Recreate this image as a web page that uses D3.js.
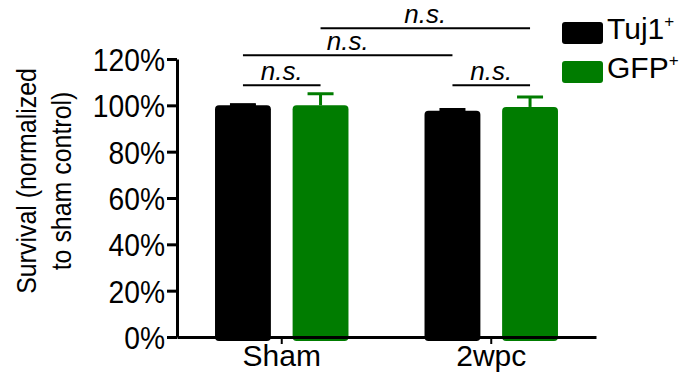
<!DOCTYPE html>
<html>
<head>
<meta charset="utf-8">
<script src="https://cdn.jsdelivr.net/npm/d3@7"></script>
<style>
  body { margin: 0; background: #fff; }
  text { font-family: "Liberation Sans", Arial, sans-serif; }
</style>
</head>
<body>
<div id="chart"></div>
<script>
// data
const groups = ["Sham", "2wpc"];
const series = ["Tuj1", "GFP"];
const means = [[100, 100], [97.7, 99.3]];   // [group][series]
const errs = [[0.3, 5.0], [0.5, 4.3]];
const yTicks = [0, 20, 40, 60, 80, 100, 120];
// significance brackets: [group, series] -> [group, series], height in %
const brackets = [
  {from: [0, 0], to: [0, 1], level: 108.7, label: "n.s."},
  {from: [0, 0], to: [1, 0], level: 121.6, label: "n.s."},
  {from: [0, 1], to: [1, 1], level: 133.3, label: "n.s."},
  {from: [1, 0], to: [1, 1], level: 108.7, label: "n.s."}
];

const width = 693, height = 380;
const margin = {left: 177, right: 97, top: 59, bottom: 43};
const colors = ["#000000", "#007c00"];

const svg = d3.select("#chart").append("svg")
  .attr("width", width)
  .attr("height", height);

// squeeze text a bit, the original font is narrower than Arial
const condense = function(sel, k) {
  sel.each(function() {
    const w = this.getComputedTextLength();
    d3.select(this).attr("textLength", w * k).attr("lengthAdjust", "spacingAndGlyphs");
  });
};

const y = d3.scaleLinear()
  .domain([0, 120])
  .range([height - margin.bottom, margin.top]);

const x0 = d3.scaleBand()
  .domain(groups)
  .range([margin.left, width - margin.right])
  .padding(0);

const x1 = d3.scaleBand()
  .domain(series)
  .range([0, x0.bandwidth()])
  .paddingInner(0.28)
  .paddingOuter(0.49);

const barCenter = (g, s) => x0(groups[g]) + x1(series[s]) + x1.bandwidth() / 2;

// bars
groups.forEach((g, gi) => {
  series.forEach((s, si) => {
    svg.append("rect")
      .attr("x", x0(g) + x1(s))
      .attr("y", y(means[gi][si]))
      .attr("width", x1.bandwidth())
      .attr("height", y(0) - y(means[gi][si]) + 4)
      .attr("rx", 4)
      .attr("fill", colors[si]);

    // error bar (upper only)
    const cx = barCenter(gi, si);
    const top = y(means[gi][si] + errs[gi][si]);
    svg.append("line")
      .attr("x1", cx).attr("x2", cx)
      .attr("y1", y(means[gi][si])).attr("y2", top)
      .attr("stroke", colors[si]).attr("stroke-width", 3);
    svg.append("line")
      .attr("x1", cx - 13).attr("x2", cx + 13)
      .attr("y1", top).attr("y2", top)
      .attr("stroke", colors[si]).attr("stroke-width", 3);
  });
});

// y axis
const yAxis = svg.append("g")
  .attr("transform", `translate(${margin.left},0)`)
  .call(d3.axisLeft(y).tickValues(yTicks).tickFormat(d => d + "%")
    .tickSizeInner(10).tickSizeOuter(0).tickPadding(2));
yAxis.select(".domain").attr("stroke-width", 3);
yAxis.selectAll(".tick line").attr("stroke-width", 3);
yAxis.selectAll(".tick text")
  .attr("font-size", 31)
  .attr("dy", "0.37em")
  .attr("fill", "#000")
  .style("font-family", "'Liberation Sans', Arial, sans-serif")
  .call(condense, 0.91);

// x axis
const xAxis = svg.append("g")
  .attr("transform", `translate(0,${height - margin.bottom})`)
  .call(d3.axisBottom(x0).tickSizeInner(7).tickSizeOuter(0).tickPadding(0));
xAxis.select(".domain").attr("stroke-width", 3);
xAxis.selectAll(".tick line").attr("stroke-width", 2);
xAxis.selectAll(".tick text")
  .attr("font-size", 30)
  .attr("dy", "0.72em")
  .attr("fill", "#000")
  .style("font-family", "'Liberation Sans', Arial, sans-serif");

// y title
const yTitle = svg.append("text")
  .attr("transform", "translate(36,181) rotate(-90)")
  .attr("text-anchor", "middle")
  .attr("font-size", 28);
yTitle.append("tspan").attr("x", 0).attr("y", 0).text("Survival (normalized");
yTitle.append("tspan").attr("x", 0).attr("y", 35).text("to sham control)");
yTitle.selectAll("tspan").call(condense, 0.89);

// significance brackets
brackets.forEach(b => {
  const xa = barCenter(b.from[0], b.from[1]);
  const xb = barCenter(b.to[0], b.to[1]);
  const ly = y(b.level);
  svg.append("line")
    .attr("x1", xa).attr("x2", xb)
    .attr("y1", ly).attr("y2", ly)
    .attr("stroke", "#000").attr("stroke-width", 2);
  svg.append("text")
    .attr("x", (xa + xb) / 2)
    .attr("y", ly - 5)
    .attr("text-anchor", "middle")
    .attr("font-size", 26)
    .attr("font-style", "italic")
    .text(b.label);
});

// legend
const legend = svg.append("g").attr("transform", "translate(562,22)");
series.forEach((s, i) => {
  const row = legend.append("g").attr("transform", `translate(0,${i * 39})`);
  row.append("rect")
    .attr("width", 41).attr("height", 22)
    .attr("rx", 3)
    .attr("fill", colors[i]);
  const t = row.append("text")
    .attr("x", 45).attr("y", 17)
    .attr("font-size", 30)
    .text(s);
  t.append("tspan")
    .attr("font-size", 17)
    .attr("dy", -12)
    .text("+");
});
</script>
</body>
</html>
